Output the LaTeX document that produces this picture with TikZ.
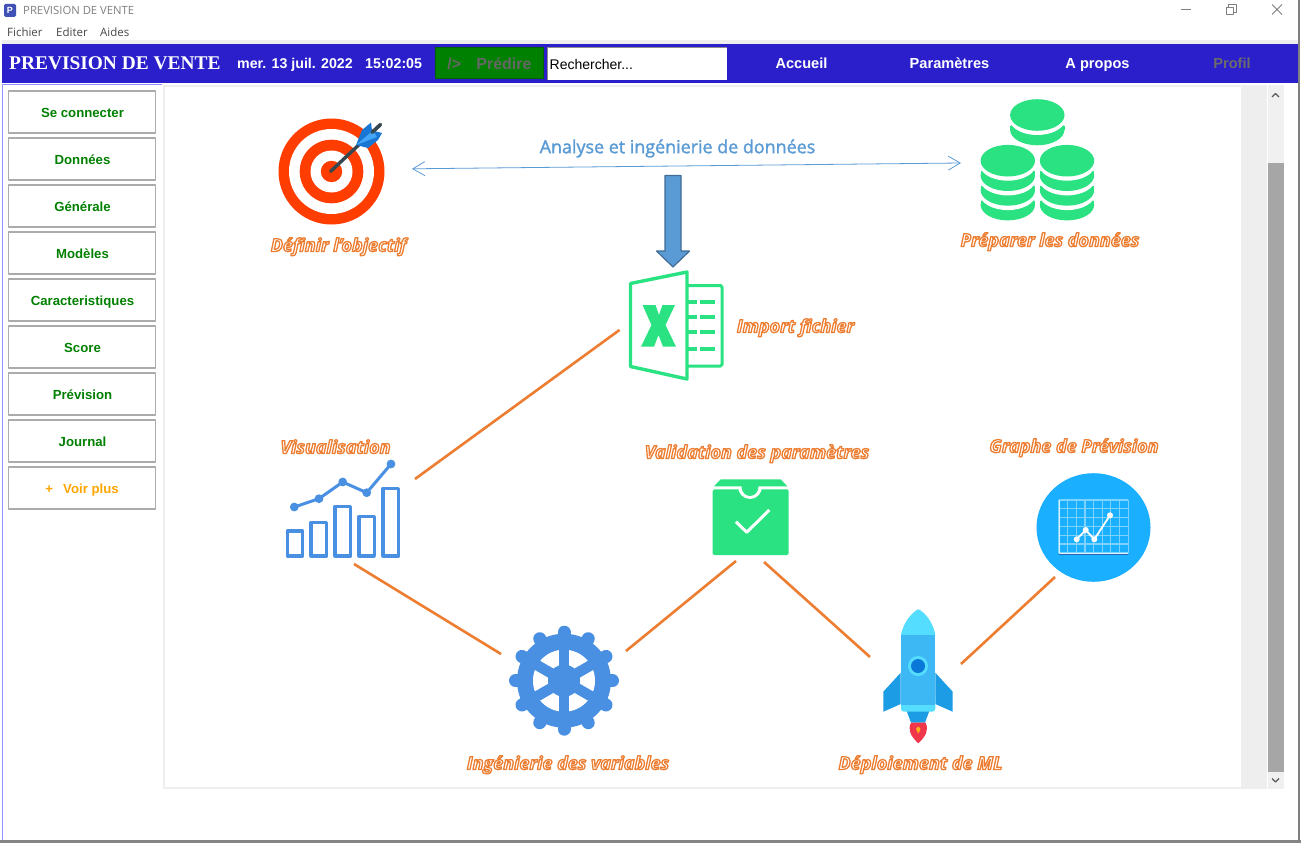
\documentclass[tikz,border=0pt]{standalone}
\usepackage{fontspec}
\setmainfont{Liberation Sans}
\newfontfamily\timesf{Liberation Serif}
\newfontfamily\labelf{Open Sans}
\usetikzlibrary{arrows.meta,calc}
\definecolor{barblue}{HTML}{2A1FCB}
\definecolor{lilac}{HTML}{8F8FFF}
\definecolor{panelgrey}{HTML}{EEEEEE}
\definecolor{mint}{HTML}{2AE282}
\definecolor{iconblue}{HTML}{4A90E2}
\definecolor{linkorange}{HTML}{ED7D31}
\definecolor{softblue}{HTML}{5B9BD5}
\definecolor{targetred}{HTML}{FF3D00}
\definecolor{btngreen}{HTML}{008000}
\definecolor{btnorange}{HTML}{FFA500}
\definecolor{dartgrey}{HTML}{37474F}
\definecolor{featherdark}{HTML}{1976D2}
\definecolor{featherlight}{HTML}{42A5F5}
\definecolor{rocketbody}{HTML}{3DB8F5}
\definecolor{rocketlight}{HTML}{55DDFF}
\definecolor{rocketfin}{HTML}{1B9CE5}
\definecolor{rocketport}{HTML}{0A78D8}
\definecolor{flamered}{HTML}{F0364A}
\definecolor{flamecore}{HTML}{FFB020}
\definecolor{discblue}{HTML}{1AAFFF}
\definecolor{gridblue}{HTML}{7DD2FF}
\definecolor{axisshade}{HTML}{2A6BB0}
\definecolor{appblue}{HTML}{3F51B5}
\newcommand{\fsz}[1]{\fontsize{#1}{#1}\selectfont}
\newcommand{\hollow}[1]{\leavevmode\textcolor{white}{\special{pdf:code 2 Tr 1.3 w 0.93 0.49 0.19 RG}#1\special{pdf:code 0 Tr}}}
\newcommand{\semibold}[1]{\leavevmode\special{pdf:code 2 Tr 0.3 w}#1\special{pdf:code 0 Tr}}
\tikzset{
  menutext/.style={inner sep=0pt,text=black!72,font=\labelf\fsz{11.5}},
  headtext/.style={inner sep=0pt,text=white,text height=10pt,text depth=0pt,font=\bfseries\fsz{14.6}},
  sidebtn/.style={draw=black!33,line width=1.2pt,fill=white,minimum width=147pt,minimum height=42pt,inner sep=0pt,text height=10pt,text depth=0pt,text=btngreen,font=\bfseries\fsz{13.2}},
  steplabel/.style={inner sep=0pt,text height=13pt,text depth=0pt,font=\labelf\bfseries\itshape\fsz{18}},
  linkline/.style={draw=linkorange,line width=2.6pt},
}
\begin{document}
\begin{tikzpicture}[x=1pt,y=-1pt,line join=round]
\useasboundingbox (0,0) rectangle (1301,843);
\fill[white] (0,0) rectangle (1301,843);
% window chrome
\fill[panelgrey] (2,40) rectangle (1298,44);
\fill[black!48] (0,840) rectangle (1301,843);
\draw[black!50,line width=1.4pt] (1299,0) -- (1299,840);
\draw[lilac,line width=1pt] (2.5,84) -- (2.5,840);
\draw[lilac,line width=1pt] (2.5,84.5) -- (162,84.5);
\node[fill=appblue,text=white,rounded corners=1.5pt,minimum width=12pt,minimum height=13pt,inner sep=0pt,font=\bfseries\fsz{9}] (appicon) at (10,10.5) {P};
\node[anchor=west,inner sep=0pt,text=black!50,font=\labelf\fsz{11.3}] (wintitle) at (23,10.5) {PREVISION DE VENTE};
\node[menutext,anchor=west] (mFichier) at (7,32) {Fichier};
\node[menutext,anchor=west] (mEditer) at (56,32) {Editer};
\node[menutext,anchor=west] (mAides) at (100,32) {Aides};
\draw[black!50,line width=.8pt] (1181,9.5) -- (1191,9.5);
\draw[black!50,line width=.8pt] (1226.5,7) rectangle (1233.5,14.5);
\draw[black!50,line width=.8pt] (1228.5,7) -- (1228.5,4.5) -- (1236,4.5) -- (1236,12) -- (1233.5,12);
\draw[black!50,line width=.8pt] (1272,4.5) -- (1282,14.5) (1282,4.5) -- (1272,14.5);
% header bar
\fill[barblue] (2,44) rectangle (1298,83);
\node[anchor=west,inner sep=0pt,text=white,text height=13pt,text depth=0pt,font=\timesf\bfseries\fsz{19.4}] (apptitle) at (9,63.5) {PREVISION DE VENTE};
\node[headtext,anchor=west,font=\bfseries\fsz{14.2}] (date) at (237,63.5) {mer. 13 juil. 2022};
\node[headtext,anchor=west,font=\bfseries\fsz{14.2}] (clock) at (365,63.5) {15:02:05};
\node[draw=black!30!green!55!black,line width=1pt,fill=btngreen,minimum width=108pt,minimum height=31pt,inner sep=0pt,text height=11.5pt,text depth=0pt,text=black!60,font=\bfseries\fsz{16}] (predire) at (489.5,63.5) {/>\hspace{.95em}Prédire};
\node[fill=white,minimum width=179pt,minimum height=32pt,inner sep=0pt,anchor=west] (searchbox) at (547.5,64) {};
\node[anchor=west,inner sep=0pt,text=black,font=\fsz{14}] (searchtext) at (549.5,64.5) {Rechercher...};
\draw[black!45,line width=.6pt] (searchbox.south west) -- (searchbox.north west) -- (searchbox.north east);
\node[headtext] (accueil) at (801.5,63.5) {Accueil};
\node[headtext] (params) at (949.5,63.5) {Paramètres};
\node[headtext] (apropos) at (1097.5,63.5) {A propos};
\node[headtext,text=black!58] (profil) at (1232,63.5) {Profil};
% panel
\draw[panelgrey,line width=2pt] (164,86) rectangle (1242,788);
\fill[panelgrey] (1242,85) rectangle (1267,789);
\fill[black!6] (1268,85) rectangle (1284,789);
\fill[black!35] (1268,163) rectangle (1283.5,772);
\draw[black!65,line width=1.3pt] (1272,97) -- (1275.5,93.5) -- (1279,97);
\draw[black!65,line width=1.3pt] (1272,778.5) -- (1275.5,782) -- (1279,778.5);
% sidebar
\foreach \i/\t in {0/Se connecter,1/Données,2/Générale,3/Modèles,4/Caracteristiques,5/Score,6/Prévision,7/Journal}{
  \node[sidebtn] (side\i) at (82,{112+47*\i}) {\hspace{1pt}\t};
}
\node[sidebtn,text=btnorange] (sidemore) at (82,488) {+\hspace{.5em} Voir plus};
% target
\fill[targetred] (331.5,171.5) circle (53);
\fill[white] (331.5,171.5) circle (42.5);
\fill[targetred] (331.5,171.5) circle (31.8);
\fill[white] (331.5,171.5) circle (21);
\fill[targetred] (331.5,171.5) circle (10.7);
\draw[dartgrey,line width=3.4pt,line cap=round] (330.5,171.5) -- (380.5,124.5);
\fill[featherdark] (356,145) -- (362,130) -- (371,122.5) -- (372,130.5) -- (382,133) -- (378,140) -- (368,148) -- cycle;
\fill[featherlight] (356,145) -- (373,130.5) -- (377,137) -- cycle;
\draw[dartgrey,line width=3.4pt,line cap=round] (372,132.5) -- (380.5,124.5);
% coins
\foreach \cx/\cy/\n in {1007.8/160.7/3,1067/160.7/3,1037.3/115/1}{
  \foreach \k in {\n,...,1}{
    \fill[mint] (\cx-27.2,{\cy+14.7*\k-4}) rectangle (\cx+27.2,{\cy+14.7*\k});
    \fill[mint] (\cx,{\cy+14.7*\k}) ellipse [x radius=27.2,y radius=15.6];
    \fill[white] (\cx,{\cy+14.7*(\k-1)+3.8}) ellipse [x radius=28,y radius=16.2];
  }
  \fill[mint] (\cx,\cy) ellipse [x radius=27.2,y radius=15.8];
}
% heading + double arrow
\coordinate (arrowL) at (412,168.8);
\coordinate (arrowR) at (961,163);
\draw[softblue,line width=.8pt,{Straight Barb[length=12pt,width=14pt]}-{Straight Barb[length=12pt,width=14pt]}] (arrowL) -- (arrowR);
\node[inner sep=0pt,text=softblue,font=\labelf\fsz{17.9}] (heading) at (677.5,148.5) {\semibold{Analyse et ingénierie de données}};
% block arrow
\path[fill=softblue,draw=softblue!70!black,line width=1.2pt] (665,175.5) -- (681,175.5) -- (681,251) -- (689.5,251) -- (673,267) -- (656.5,251) -- (665,251) -- cycle;
% excel icon
\draw[mint,line width=3pt,rounded corners=1.5pt] (687.5,285.5) -- (722,285.5) -- (722,366) -- (687.5,366);
\draw[mint,line width=3.4pt] (630.5,283.5) -- (687,272) -- (687,379) -- (630.5,366.5) -- cycle;
\foreach \yy in {301.7,316.7,332,349.3}{
  \draw[mint,line width=3.8pt] (687,\yy) -- (697,\yy) (700,\yy) -- (715,\yy);
}
\fill[mint] (642.5,305) -- (655.5,305) -- (659,315) -- (662.5,305) -- (675,305) -- (665.5,325) -- (676,346.7) -- (663,346.7) -- (658.5,335) -- (654,346.7) -- (641,346.7) -- (651.5,325) -- cycle;
% visualisation icon
\foreach \xa/\xb/\yt in {287.3/302.7/531,311/326.7/522.7,335/350.7/506.7,359/374.3/516.7,383/398.7/488.3}{
  \draw[iconblue,line width=3.2pt] (\xa,\yt) rectangle (\xb,556);
}
\draw[iconblue,line width=3pt] (294.3,507) -- (319,498.7) -- (342.7,482) -- (366.7,492.7) -- (391,464);
\foreach \px/\py in {294.3/507,319/498.7,342.7/482,366.7/492.7,391/464}{
  \fill[iconblue] (\px,\py) circle (4.4);
}
% gear
\foreach \a in {0,30,...,330}{
  \draw[iconblue,line width=13pt,line cap=round] ($(564,680.7)+(\a:38)$) -- ($(564,680.7)+(\a:48.5)$);
}
\fill[iconblue] (564,680.7) circle (47);
\fill[white] (564,680.7) circle (31);
\foreach \a in {30,90,150}{
  \draw[iconblue,line width=10.5pt] ($(564,680.7)+(\a:33)$) -- ($(564,680.7)+(\a+180:33)$);
}
\fill[iconblue] (564,680.7) circle (16);
% validation box
\fill[mint,rounded corners=1.5pt] (712.7,489.3) rectangle (788.7,555);
\begin{scope}
  \clip (730,486) rectangle (770,505);
  \fill[white] (750,486.5) ellipse [x radius=12,y radius=12.5];
  \fill[mint] (750,486.5) ellipse [x radius=8.5,y radius=9.5];
\end{scope}
\fill[mint] (714,486.3) -- (720.7,479.3) -- (780.7,479.3) -- (787.3,486.3) -- cycle;
\draw[white,line width=3pt] (736,521.7) -- (746.7,532.3) -- (769.3,510);
% rocket
\fill[rocketfin] (900.7,672.7) -- (883.3,691.7) -- (883.3,711.7) -- (900.7,704) -- cycle;
\fill[rocketfin] (935.3,672.7) -- (952.7,691.7) -- (952.7,711.7) -- (935.3,704) -- cycle;
\fill[rocketfin] (906.7,711) -- (929.3,711) -- (925,722.7) -- (911,722.7) -- cycle;
\fill[rocketlight] (901,635) .. controls (903,623) and (912,612) .. (918.3,609.3) .. controls (925,612) and (933.5,623) .. (935.3,635) -- cycle;
\fill[rocketlight,rounded corners=3pt] (901,695) rectangle (935.3,711.7);
\fill[rocketbody] (901,635) rectangle (935.3,705);
\fill[rocketlight] (918,666) circle (10);
\fill[rocketport] (918,666) circle (7);
\fill[flamered] (911,722.7) -- (925.6,722.7) .. controls (929,730) and (926,736) .. (918.3,743.3) .. controls (910.5,736) and (907.5,730) .. (911,722.7) -- cycle;
\fill[flamecore] (918.3,733.5) .. controls (915,729) and (916,726.5) .. (918.3,726.5) .. controls (920.6,726.5) and (921.6,729) .. (918.3,733.5) -- cycle;
% forecast icon
\fill[discblue] (1093.5,527.5) ellipse [x radius=57,y radius=54.3];
\begin{scope}[gridblue,line width=1.1pt]
  \foreach \gx in {0,1,...,8}{ \draw ({1059+8.65*\gx},500) -- ({1059+8.65*\gx},553); }
  \foreach \gy in {0,1,...,6}{ \draw (1059,{500+8.8*\gy}) -- (1128,{500+8.8*\gy}); }
\end{scope}
\draw[axisshade,line width=1pt] (1059,554.5) -- (1128.3,554.5);
\draw[white!85!cyan,line width=1.6pt] (1059.3,500) -- (1059.3,553.3) -- (1128.3,553.3);
\draw[white,line width=1.8pt] (1076.7,539.3) -- (1085.7,530) -- (1094.3,539.3) -- (1110,515.3);
\foreach \px/\py in {1076.7/539.3,1085.7/530,1094.3/539.3,1110/515.3}{
  \fill[white] (\px,\py) circle (3);
}
% connectors
\coordinate (visA) at (415,479);
\coordinate (xlA) at (619.5,330);
\coordinate (visB) at (354,564);
\coordinate (gearA) at (501,654);
\coordinate (gearB) at (626,651);
\coordinate (boxA) at (736,561);
\coordinate (boxB) at (764,562);
\coordinate (rocketA) at (870,657);
\coordinate (rocketB) at (961,664);
\coordinate (graphA) at (1055,577);
\draw[linkline] (visA) -- (xlA);
\draw[linkline] (visB) -- (gearA);
\draw[linkline] (gearB) -- (boxA);
\draw[linkline] (boxB) -- (rocketA);
\draw[linkline] (rocketB) -- (graphA);
% labels
\node[steplabel] (lObjectif) at (338.5,245) {\hollow{Définir l’objectif}};
\node[steplabel] (lDonnees) at (1050,240) {\hollow{Préparer les données}};
\node[steplabel] (lImport) at (795.5,326) {\hollow{Import fichier}};
\node[steplabel] (lVisu) at (335.5,447) {\hollow{Visualisation}};
\node[steplabel] (lValid) at (757,452) {\hollow{Validation des paramètres}};
\node[steplabel] (lGraphe) at (1074,446) {\hollow{Graphe de Prévision}};
\node[steplabel] (lVars) at (568,763) {\hollow{Ingénierie des variables}};
\node[steplabel] (lDeploy) at (920.5,763) {\hollow{Déploiement de ML}};
\end{tikzpicture}
\end{document}
